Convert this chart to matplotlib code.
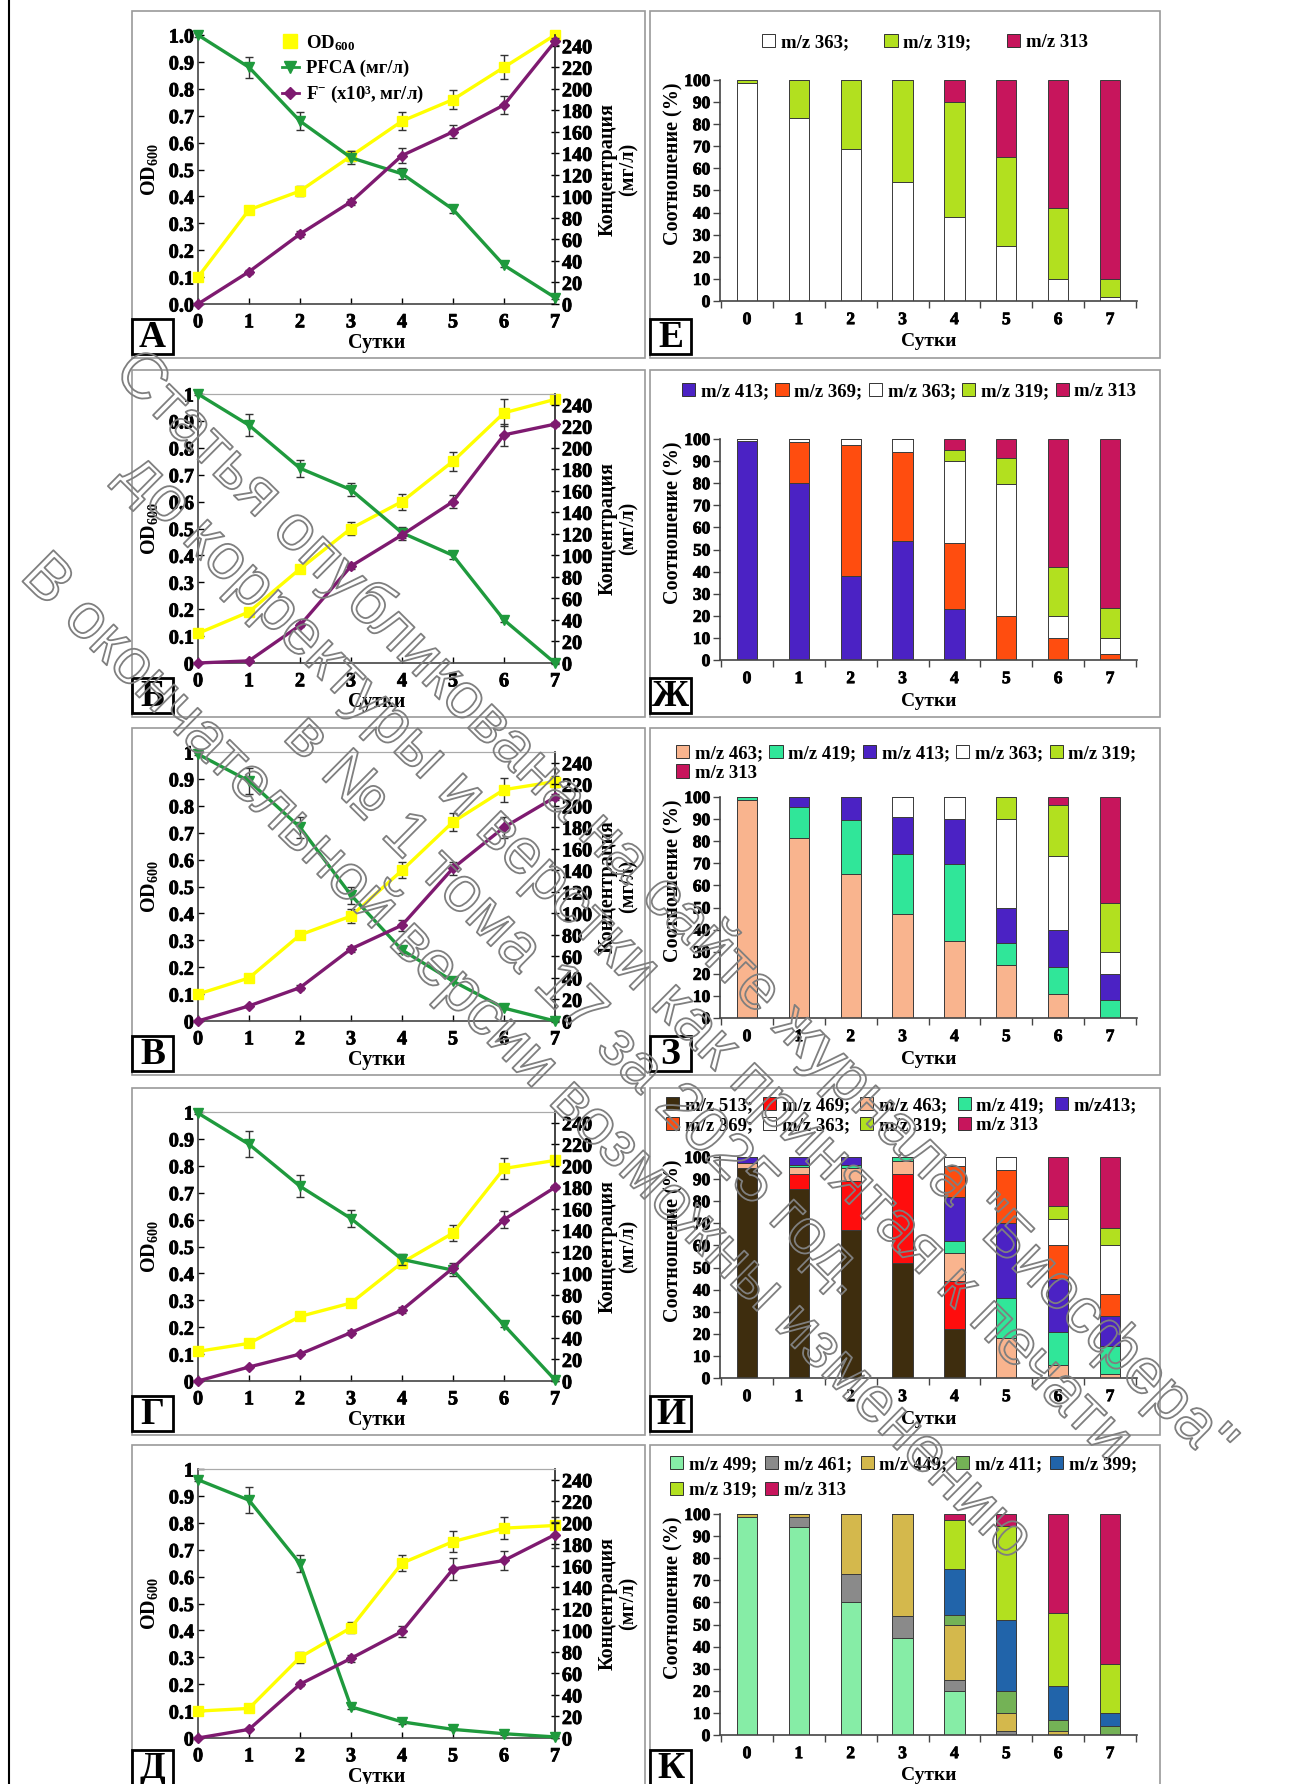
import matplotlib
matplotlib.use('Agg')
import matplotlib.pyplot as plt
import numpy as np
from matplotlib.patches import Rectangle, Patch
from matplotlib.lines import Line2D
from matplotlib.font_manager import FontProperties
import matplotlib.patheffects as pe

plt.rcParams['font.family'] = ['Liberation Serif', 'DejaVu Serif']
plt.rcParams['font.weight'] = 'bold'
plt.rcParams['axes.labelweight'] = 'bold'
plt.rcParams['mathtext.fontset'] = 'custom'
plt.rcParams['mathtext.rm'] = 'Liberation Serif:bold'
plt.rcParams['mathtext.bf'] = 'Liberation Serif:bold'
plt.rcParams['mathtext.it'] = 'Liberation Serif:bold'
plt.rcParams['mathtext.default'] = 'rm'

# ---------------- data ----------------
days = [0, 1, 2, 3, 4, 5, 6, 7]
letters_left = ['А', 'Б', 'В', 'Г', 'Д']
letters_right = ['Е', 'Ж', 'З', 'И', 'К']

# line panels: OD600 (left axis), PFCA and F- (right axis, mg/l)
od_A = [0.10, 0.35, 0.42, 0.55, 0.68, 0.76, 0.88, 1.00]
od_A_err = [0.01, 0.015, 0.02, 0.02, 0.035, 0.035, 0.045, 0.01]
pf_A = [250, 220, 170, 136, 121, 88, 36, 6]
pf_A_err = [2, 10, 8, 6, 5, 3, 2, 1]
f_A = [0, 30, 65, 95, 138, 160, 185, 244]
f_A_err = [1, 2, 3, 3, 7, 6, 8, 3]

od_B = [0.11, 0.19, 0.35, 0.50, 0.60, 0.75, 0.93, 0.98]
od_B_err = [0.01, 0.01, 0.015, 0.025, 0.03, 0.035, 0.05, 0.01]
pf_B = [250, 221, 181, 161, 121, 100, 40, 0]
pf_B_err = [1, 10, 8, 6, 5, 3, 2, 1]
f_B = [0, 2, 35, 90, 119, 150, 212, 222]
f_B_err = [0, 1, 2, 3, 5, 6, 10, 2]

od_V = [0.10, 0.16, 0.32, 0.39, 0.56, 0.74, 0.86, 0.89]
od_V_err = [0.01, 0.01, 0.015, 0.025, 0.03, 0.035, 0.045, 0.02]
pf_V = [248, 223, 180, 117, 66, 37, 12, 0]
pf_V_err = [1, 12, 10, 8, 3, 2, 1, 1]
f_V = [0, 14, 31, 67, 89, 142, 180, 208]
f_V_err = [0, 1, 2, 3, 5, 6, 10, 3]

od_G = [0.11, 0.14, 0.24, 0.29, 0.44, 0.55, 0.79, 0.82]
od_G_err = [0.01, 0.01, 0.012, 0.015, 0.02, 0.03, 0.04, 0.015]
pf_G = [249, 220, 181, 151, 113, 103, 52, 1]
pf_G_err = [1, 12, 10, 8, 5, 5, 2, 1]
f_G = [0, 13, 25, 45, 66, 105, 150, 180]
f_G_err = [0, 1, 1, 2, 3, 5, 8, 2]

od_D = [0.10, 0.11, 0.30, 0.41, 0.65, 0.73, 0.78, 0.79]
od_D_err = [0.01, 0.01, 0.02, 0.02, 0.03, 0.04, 0.04, 0.03]
pf_D = [240, 221, 162, 29, 15, 8, 4, 1]
pf_D_err = [1, 12, 8, 2, 2, 1, 1, 1]
f_D = [0, 8, 50, 74, 99, 157, 165, 189]
f_D_err = [0, 1, 2, 3, 5, 10, 9, 12]

# bar panels (%), stacked bottom -> top in legend order
E_363 = [98.5, 83, 69, 54, 38, 25, 10, 2]
E_319 = [1.5, 17, 31, 46, 52, 40, 32, 8]
E_313 = [0, 0, 0, 0, 10, 35, 58, 90]

Zh_413 = [99, 80, 38, 54, 23, 0, 0, 0]
Zh_369 = [0, 18.5, 59.5, 40, 30, 20, 10, 2.5]
Zh_363 = [1, 1.5, 2.5, 6, 37, 59.5, 10, 7.5]
Zh_319 = [0, 0, 0, 0, 5, 12, 22, 13.5]
Zh_313 = [0, 0, 0, 0, 5, 8.5, 58, 76.5]

Z_463 = [98.5, 81.5, 65, 47, 35, 24, 11, 0]
Z_419 = [1.5, 14, 24.5, 27, 34.5, 10, 12, 8]
Z_413 = [0, 4.5, 10.5, 17, 20.5, 16, 17, 12]
Z_363 = [0, 0, 0, 9, 10, 40, 33.5, 10]
Z_319 = [0, 0, 0, 0, 0, 10, 23, 22]
Z_313 = [0, 0, 0, 0, 0, 0, 3.5, 48]

I_513 = [95, 85.5, 67, 52, 22, 0, 0, 0]
I_469 = [0, 7, 22, 40.5, 22, 0, 0, 0]
I_463 = [2.5, 3, 6, 5.5, 12.5, 18, 6, 2]
I_419 = [0, 1, 1.5, 2, 5.5, 18, 15, 12.5]
I_413 = [2.5, 3.5, 3.5, 0, 20, 34, 24, 13.5]
I_369 = [0, 0, 0, 0, 14, 24, 15, 10]
I_363 = [0, 0, 0, 0, 4, 6, 12, 22]
I_319 = [0, 0, 0, 0, 0, 0, 6, 8]
I_313 = [0, 0, 0, 0, 0, 0, 22, 32]

K_499 = [98.5, 94, 60, 44, 20, 0, 0, 0]
K_461 = [0, 4.5, 13, 10, 5, 2, 0, 0]
K_449 = [1.5, 1.5, 27, 46, 25, 8, 2, 0]
K_411 = [0, 0, 0, 0, 4.5, 10, 5, 4]
K_399 = [0, 0, 0, 0, 20.5, 32, 15, 6]
K_319 = [0, 0, 0, 0, 22.5, 42.5, 33, 22]
K_313 = [0, 0, 0, 0, 2.5, 5.5, 45, 68]

watermark_lines = [
    'Статья опубликована на сайте журнала "Биосфера"',
    'до корректуры и верстки как принятая к печати',
    'в № 1 тома 17 за 2025 год.',
    'В окончательной версии возможны изменению',
]

# ---------------- styles ----------------
YEL = '#ffff00'
GRN = '#1f9a3d'
PUR = '#7e1a70'
MZ_COL = {
    '513': '#3e2d0e', '499': '#86eda6', '469': '#ff0d0d', '463': '#f9b48e',
    '461': '#8a8a8a', '449': '#d4b84c', '419': '#30e699', '413': '#4b22c4',
    '411': '#74b256', '399': '#2164aa', '369': '#ff4d0f', '363': '#ffffff',
    '319': '#b2e01f', '313': '#c7155c',
}
HEAVY = [pe.Stroke(linewidth=0.6, foreground='black'), pe.Normal()]

W, H = 1293, 1784
fig = plt.figure(figsize=(W / 100, H / 100), dpi=100)
fig.patch.set_facecolor('white')


def axes_px(left, top, right, bottom):
    return fig.add_axes([left / W, 1 - bottom / H, (right - left) / W, (bottom - top) / H])


row_tops = [11, 370, 728, 1088, 1445]
FRAME_H = 347
LEFT_FRAME = (132, 645)
RIGHT_FRAME = (650, 1160)

# frames and letter boxes
for i, top in enumerate(row_tops):
    for (x0, x1), letter in ((LEFT_FRAME, letters_left[i]), (RIGHT_FRAME, letters_right[i])):
        fig.add_artist(Rectangle((x0 / W, 1 - (top + FRAME_H) / H), (x1 - x0) / W, FRAME_H / H,
                                 transform=fig.transFigure, fill=False, edgecolor='#9a9a9a',
                                 lw=1.2, zorder=0))
        by0, by1 = top + 308, top + 343
        if i == 4:
            by0, by1 = top + 305, top + 340
        fig.add_artist(Rectangle((x0 / W, 1 - by1 / H), 41 / W, (by1 - by0) / H,
                                 transform=fig.transFigure, facecolor='white',
                                 edgecolor='black', lw=2, zorder=5))
        fig.text((x0 + 20.5) / W, 1 - ((by0 + by1) / 2 + 1) / H, letter, ha='center', va='center',
                 fontsize=27, fontweight='bold', zorder=6)

fig.add_artist(Line2D([9 / W, 9 / W], [0, 1], transform=fig.transFigure, color='black', lw=1.5))

all_axes = []


def unclip(cont):
    for a in cont.get_children():
        a.set_clip_on(False)


def line_panel(top, od, od_err, pf, pf_err, fl, fl_err, first=False):
    ax = axes_px(198, top + 24, 555, top + 293)
    ax2 = ax.twinx()
    all_axes.extend([ax, ax2])
    ax.set_xlim(0, 7)
    ax.set_ylim(0, 1)
    ax2.set_ylim(0, 250)
    eb = dict(ecolor='#333333', elinewidth=1.0, capsize=3, capthick=1.0)
    c1 = ax.errorbar(days, od, yerr=od_err, color=YEL, marker='s', ms=7, lw=2.4, zorder=3, **eb)
    c2 = ax2.errorbar(days, pf, yerr=pf_err, color=GRN, marker='v', ms=7, lw=2.4, zorder=3, **eb)
    c3 = ax2.errorbar(days, fl, yerr=fl_err, color=PUR, marker='D', ms=5, lw=2.4, zorder=3, **eb)
    for c in (c1, c2, c3):
        unclip(c)
    ax.set_xticks(days)
    ax.set_xticklabels([str(d) for d in days])
    yt = np.round(np.arange(0, 1.01, 0.1), 1)
    ax.set_yticks(yt)
    if first:
        ax.set_yticklabels([f'{v:.1f}' for v in yt])
    else:
        ax.set_yticklabels(['0'] + [f'{v:.1f}' for v in yt[1:-1]] + ['1'])
    ax2.set_yticks(range(0, 241, 20))
    ax2.set_yticklabels([str(v) for v in range(0, 241, 20)])
    ax.tick_params(axis='both', labelsize=14.5, direction='in', length=4, width=1, pad=3)
    ax.tick_params(axis='x', pad=6)
    ax2.tick_params(axis='y', labelsize=14.5, direction='inout', length=6, width=1, pad=2)
    for s in ('left', 'bottom'):
        ax.spines[s].set_color('#444444')
        ax.spines[s].set_linewidth(1.2)
    ax2.spines['right'].set_color('#222222')
    ax2.spines['right'].set_linewidth(1.2)
    for a in (ax, ax2):
        a.spines['top'].set_color('#aaaaaa')
        a.spines['top'].set_visible(not first)
        a.spines['left'].set_visible(a is ax)
        a.spines['bottom'].set_visible(a is ax)
        a.spines['right'].set_visible(a is ax2)
    ax.set_xlabel('Сутки', fontsize=14.5, va='center', fontweight='bold')
    ax.xaxis.set_label_coords(0.5, -39 / 269)
    ax.set_ylabel('OD$_{600}$', fontsize=14.5, va='center', fontweight='bold')
    ax.yaxis.set_label_coords(-48 / 357, 0.5)
    ax2.set_ylabel('Концентрация\n(мг/л)', fontsize=14.5, va='center', ha='center',
                   rotation=90, linespacing=1.1, fontweight='bold')
    ax2.yaxis.set_label_coords(1 + 63 / 357, 0.5)
    if first:
        handles = [Line2D([], [], color=YEL, marker='s', ms=10, lw=0),
                   Line2D([], [], color=GRN, marker='v', ms=9, lw=2),
                   Line2D([], [], color=PUR, marker='D', ms=6, lw=2)]
        labels = ['OD$_{600}$', 'PFCA (мг/л)', 'F$^{-}$ (x10³, мг/л)']
        ax.legend(handles, labels, loc='upper left', bbox_to_anchor=(282 / W, 1 - 33 / H),
                  bbox_transform=fig.transFigure, frameon=False,
                  prop={'size': 13.5, 'weight': 'bold'},
                  handlelength=0.9, handletextpad=0.4, labelspacing=0.38,
                  borderpad=0, borderaxespad=0)
    return ax


line_panel(row_tops[0], od_A, od_A_err, pf_A, pf_A_err, f_A, f_A_err, first=True)
line_panel(row_tops[1], od_B, od_B_err, pf_B, pf_B_err, f_B, f_B_err)
line_panel(row_tops[2], od_V, od_V_err, pf_V, pf_V_err, f_V, f_V_err)
line_panel(row_tops[3], od_G, od_G_err, pf_G, pf_G_err, f_G, f_G_err)
line_panel(row_tops[4], od_D, od_D_err, pf_D, pf_D_err, f_D, f_D_err)


def bar_panel(top, series, legend_order, ncol, leg_x, leg_dy, colspace, labelspacing):
    ax = axes_px(720, top + 69, 1137, top + 290)
    all_axes.append(ax)
    bottom = np.zeros(len(days))
    for mz, vals, lab in series:
        v = np.array(vals, dtype=float)
        ax.bar(days, v, width=0.39, bottom=bottom, color=MZ_COL[mz], edgecolor='#3a3a3a',
               linewidth=0.7, zorder=2)
        bottom += v
    ax.set_xlim(-0.52, 7.52)
    ax.set_ylim(0, 100)
    ax.set_yticks(range(0, 101, 10))
    ax.set_yticklabels([str(v) for v in range(0, 101, 10)])
    ax.set_xticks(days)
    ax.set_xticklabels([str(d) for d in days])
    ax.set_xticks(np.arange(-0.5, 7.6, 1), minor=True)
    ax.tick_params(axis='x', which='major', length=0, labelsize=12.5, pad=8)
    ax.tick_params(axis='x', which='minor', length=5, direction='out', width=1, color='#444444')
    ax.tick_params(axis='y', labelsize=12.5, length=5, direction='out', width=1, pad=2,
                   color='#444444')
    for s in ('top', 'right'):
        ax.spines[s].set_visible(False)
    for s in ('left', 'bottom'):
        ax.spines[s].set_color('#444444')
        ax.spines[s].set_linewidth(1.2)
    ax.set_xlabel('Сутки', fontsize=14, va='center', fontweight='bold')
    ax.xaxis.set_label_coords(0.5, -41 / 221)
    ax.set_ylabel('Соотношение (%)', fontsize=14.5, va='center', fontweight='bold')
    ax.yaxis.set_label_coords(-47 / 417, 0.62)
    lookup = {mz: lab for mz, vals, lab in series}
    handles = [Patch(facecolor=MZ_COL[mz], edgecolor='#333333', linewidth=0.7) for mz in legend_order]
    labels = [lookup[mz] for mz in legend_order]
    fig.legend(handles, labels, loc='upper left', bbox_to_anchor=(leg_x / W, 1 - (top + leg_dy) / H),
               ncol=ncol, frameon=False, prop={'size': 13.5, 'weight': 'bold'},
               handlelength=0.7, handleheight=0.7,
               handletextpad=0.3, columnspacing=colspace, labelspacing=labelspacing,
               borderpad=0, borderaxespad=0)
    return ax


bar_panel(row_tops[0],
          [('363', E_363, 'm/z 363;'), ('319', E_319, 'm/z 319;'), ('313', E_313, 'm/z 313')],
          ['363', '319', '313'], 3, 762, 23, 1.9, 0.2)
bar_panel(row_tops[1],
          [('413', Zh_413, 'm/z 413;'), ('369', Zh_369, 'm/z 369;'), ('363', Zh_363, 'm/z 363;'),
           ('319', Zh_319, 'm/z 319;'), ('313', Zh_313, 'm/z 313')],
          ['413', '369', '363', '319', '313'], 5, 682, 13, 0.35, 0.2)
bar_panel(row_tops[2],
          [('463', Z_463, 'm/z 463;'), ('419', Z_419, 'm/z 419;'), ('413', Z_413, 'm/z 413;'),
           ('363', Z_363, 'm/z 363;'), ('319', Z_319, 'm/z 319;'), ('313', Z_313, 'm/z 313')],
          ['463', '313', '419', '413', '363', '319'], 5, 676, 17, 0.35, 0.12)
bar_panel(row_tops[3],
          [('513', I_513, 'm/z 513;'), ('469', I_469, 'm/z 469;'), ('463', I_463, 'm/z 463;'),
           ('419', I_419, 'm/z 419;'), ('413', I_413, 'm/z413;'), ('369', I_369, 'm/z 369;'),
           ('363', I_363, 'm/z 363;'), ('319', I_319, 'm/z 319;'), ('313', I_313, 'm/z 313')],
          ['513', '369', '469', '363', '463', '319', '419', '313', '413'], 5, 666, 9, 0.55, 0.15)
bar_panel(row_tops[4],
          [('499', K_499, 'm/z 499;'), ('461', K_461, 'm/z 461;'), ('449', K_449, 'm/z 449;'),
           ('411', K_411, 'm/z 411;'), ('399', K_399, 'm/z 399;'), ('319', K_319, 'm/z 319;'),
           ('313', K_313, 'm/z 313')],
          ['499', '319', '461', '313', '449', '411', '399'], 5, 670, 11, 0.45, 0.45)

# watermark (hollow outlined text)
fig.text(600 / W, 1 - 982 / H, '\n'.join(watermark_lines), rotation=-44.8, rotation_mode='anchor',
         ha='center', va='center', multialignment='center', fontsize=46,
         family=['Liberation Sans', 'DejaVu Sans'], fontweight='normal', color=(0, 0, 0, 0),
         linespacing=1.2, zorder=100,
         path_effects=[pe.Stroke(linewidth=1.3, foreground='#7f7f7f')])

# make every tick label heavy bold (like the reference)
fig.canvas.draw()
for a in all_axes:
    for lab in a.get_xticklabels() + a.get_yticklabels():
        lab.set_fontweight('bold')
        lab.set_path_effects(HEAVY)

fig.savefig('out.png', dpi=100, facecolor='white')
